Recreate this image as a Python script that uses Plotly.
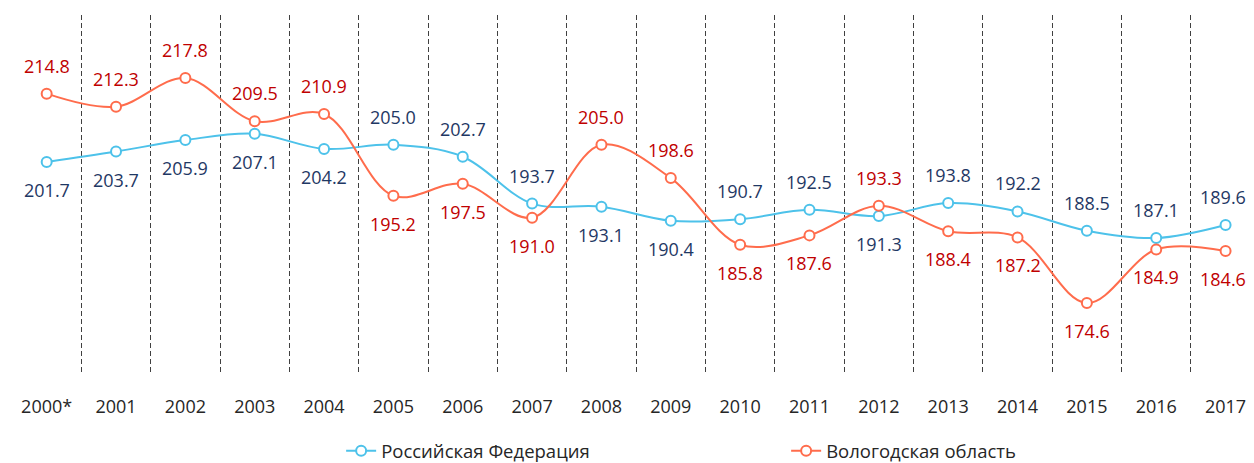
import plotly.graph_objects as go

years = ["2000*", "2001", "2002", "2003", "2004", "2005", "2006", "2007", "2008",
         "2009", "2010", "2011", "2012", "2013", "2014", "2015", "2016", "2017"]
russia = [201.7, 203.7, 205.9, 207.1, 204.2, 205.0, 202.7, 193.7, 193.1,
          190.4, 190.7, 192.5, 191.3, 193.8, 192.2, 188.5, 187.1, 189.6]
vologda = [214.8, 212.3, 217.8, 209.5, 210.9, 195.2, 197.5, 191.0, 205.0,
           198.6, 185.8, 187.6, 193.3, 188.4, 187.2, 174.6, 184.9, 184.6]
russia_label_pos = ["below"] * 5 + ["above"] * 3 + ["below"] * 2 + ["above"] * 2 + ["below"] + ["above"] * 5
vologda_label_pos = ["above"] * 5 + ["below"] * 3 + ["above"] * 2 + ["below"] * 2 + ["above"] + ["below"] * 5

names = ["Российская Федерация", "Вологодская область"]
line_colors = ["#4DC2EA", "#FF6C4C"]
label_colors = ["#1F3864", "#C00000"]

xs = list(range(len(years)))
FONT = "Open Sans"

fig = go.Figure()
for name, vals, lc in zip(names, [russia, vologda], line_colors):
    fig.add_trace(go.Scatter(
        x=xs, y=vals, name=name, mode="lines+markers",
        line=dict(color=lc, width=2, shape="spline", smoothing=1),
        marker=dict(symbol="circle", size=10, color="white", line=dict(color=lc, width=2)),
        hoverinfo="skip",
    ))

annotations = []
last = xs[-1]
for vals, pos, col in [(russia, russia_label_pos, label_colors[0]),
                       (vologda, vologda_label_pos, label_colors[1])]:
    for x, v, p in zip(xs, vals, pos):
        annotations.append(dict(
            x=x, y=v, xref="x", yref="y", text=f"{v:.1f}", showarrow=False,
            yshift=28 if p == "above" else -28, yanchor="middle",
            xshift=-3 if x == last else 0,
            font=dict(family=FONT, size=18, color=col),
        ))

# page body has an 8px default margin, so the figure is sized to fit the window
fig.update_layout(
    width=1246, height=455,
    margin=dict(l=4, r=0, t=7, b=88, autoexpand=False),
    paper_bgcolor="white", plot_bgcolor="white",
    font=dict(family=FONT, size=18, color="#262626"),
    annotations=annotations,
    showlegend=True,
    legend=dict(orientation="h", x=0.265, xanchor="left", y=-0.212, yanchor="middle",
                entrywidth=400, font=dict(family=FONT, size=18.5, color="#262626"),
                bgcolor="rgba(0,0,0,0)"),
    xaxis=dict(
        range=[-0.5, 17.41], tickmode="array", tickvals=xs, ticktext=years,
        showgrid=False, zeroline=False, showline=False, ticks="",
        ticklabelstandoff=19,
        tickfont=dict(family=FONT, size=18, color="#262626"),
        minor=dict(tick0=0.5, dtick=1, showgrid=True, griddash="5px,3px",
                   gridcolor="#404040", gridwidth=1),
    ),
    yaxis=dict(range=[160.8, 229.9], showgrid=False, zeroline=False,
               showticklabels=False, showline=False, ticks=""),
)

fig.write_html("out.html")
